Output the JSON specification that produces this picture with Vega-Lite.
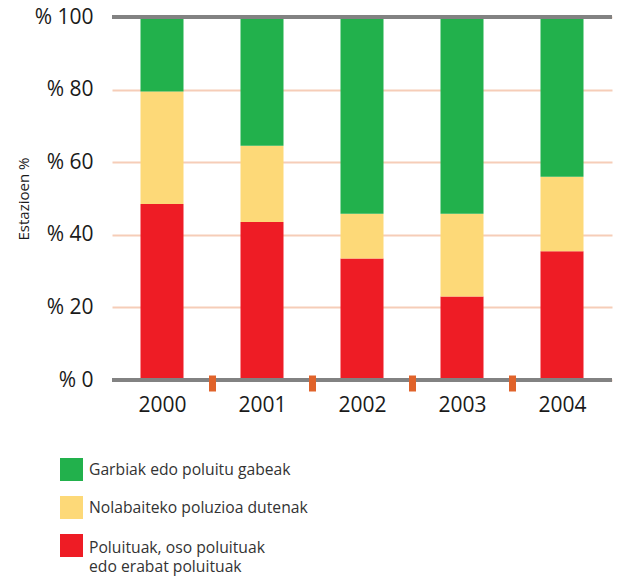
{
  "$schema": "https://vega.github.io/schema/vega-lite/v6.json",
  "width": 500,
  "height": 363,
  "autosize": {"type": "none"},
  "padding": {"left": 112, "top": 17, "right": 8, "bottom": 199},
  "background": "white",
  "config": {"view": {"stroke": null}, "font": "Open Sans"},
  "datasets": {
    "bars": [
      {"year": "2000", "cat": "Poluituak, oso poluituak edo erabat poluituak", "order": 1, "pct": 48.5},
      {"year": "2000", "cat": "Nolabaiteko poluzioa dutenak", "order": 2, "pct": 31},
      {"year": "2000", "cat": "Garbiak edo poluitu gabeak", "order": 3, "pct": 20.5},
      {"year": "2001", "cat": "Poluituak, oso poluituak edo erabat poluituak", "order": 1, "pct": 43.5},
      {"year": "2001", "cat": "Nolabaiteko poluzioa dutenak", "order": 2, "pct": 21},
      {"year": "2001", "cat": "Garbiak edo poluitu gabeak", "order": 3, "pct": 35.5},
      {"year": "2002", "cat": "Poluituak, oso poluituak edo erabat poluituak", "order": 1, "pct": 33.5},
      {"year": "2002", "cat": "Nolabaiteko poluzioa dutenak", "order": 2, "pct": 12.3},
      {"year": "2002", "cat": "Garbiak edo poluitu gabeak", "order": 3, "pct": 54.2},
      {"year": "2003", "cat": "Poluituak, oso poluituak edo erabat poluituak", "order": 1, "pct": 23},
      {"year": "2003", "cat": "Nolabaiteko poluzioa dutenak", "order": 2, "pct": 22.8},
      {"year": "2003", "cat": "Garbiak edo poluitu gabeak", "order": 3, "pct": 54.2},
      {"year": "2004", "cat": "Poluituak, oso poluituak edo erabat poluituak", "order": 1, "pct": 35.5},
      {"year": "2004", "cat": "Nolabaiteko poluzioa dutenak", "order": 2, "pct": 20.5},
      {"year": "2004", "cat": "Garbiak edo poluitu gabeak", "order": 3, "pct": 44}
    ],
    "lines": [{"v": 0}, {"v": 100}]
  },
  "layer": [
    {
      "data": {"name": "bars"},
      "mark": {"type": "bar", "width": {"band": 0.43}},
      "encoding": {
        "x": {
          "field": "year", "type": "nominal",
          "scale": {"paddingInner": 0, "paddingOuter": 0},
          "axis": {
            "title": null, "domain": false, "labelAngle": 0,
            "tickBand": "extent", "tickColor": "#e0632b", "tickWidth": 7, "tickSize": 16,
            "tickOpacity": {"condition": {"test": "datum.value == '2004' || !isValid(datum.value) || datum.extra", "value": 0}, "value": 1},
            "offset": -5, "zindex": 2,
            "labelFontSize": 21, "labelColor": "#1a1a1a", "labelPadding": 3, "labelFont": "Open Sans"
          }
        },
        "y": {
          "field": "pct", "type": "quantitative", "stack": "zero",
          "scale": {"domain": [0, 100], "nice": false},
          "axis": {
            "title": "Estazioen %", "titleFontSize": 15, "titleFontWeight": "normal", "titleColor": "#1a1a1a",
            "titlePadding": 3, "titleFont": "Open Sans",
            "values": [0, 20, 40, 60, 80, 100],
            "labelExpr": "'% ' + datum.value",
            "labelFontSize": 21, "labelColor": "#1a1a1a", "labelPadding": 19, "labelFont": "Open Sans",
            "domain": false, "ticks": false,
            "grid": true, "gridColor": "#f6cdb8", "gridWidth": 2
          }
        },
        "color": {
          "field": "cat", "type": "nominal",
          "scale": {
            "domain": ["Garbiak edo poluitu gabeak", "Nolabaiteko poluzioa dutenak", "Poluituak, oso poluituak edo erabat poluituak"],
            "range": ["#22b14c", "#fdd978", "#ee1c25"]
          },
          "legend": {
            "title": null, "orient": "none", "legendX": -52, "legendY": 441,
            "symbolType": "square", "symbolSize": 529, "symbolStrokeWidth": 0, "symbolOpacity": 1,
            "labelFontSize": 15.7, "labelColor": "#333333", "labelOffset": 6, "labelFont": "Open Sans",
            "labelLimit": 400, "rowPadding": 15, "padding": 0,
            "labelExpr": "datum.label == 'Poluituak, oso poluituak edo erabat poluituak' ? ['Poluituak, oso poluituak', 'edo erabat poluituak'] : datum.label",
            "encode": {"labels": {"update": {"lineHeight": {"value": 19}, "dy": {"signal": "datum.label == 'Poluituak, oso poluituak edo erabat poluituak' ? 2 : 0"}}}}
          }
        },
        "order": {"field": "order", "type": "quantitative"}
      }
    },
    {
      "data": {"name": "lines"},
      "mark": {"type": "rule", "color": "#828282", "strokeWidth": 4},
      "encoding": {"y": {"field": "v", "type": "quantitative"}}
    }
  ]
}
